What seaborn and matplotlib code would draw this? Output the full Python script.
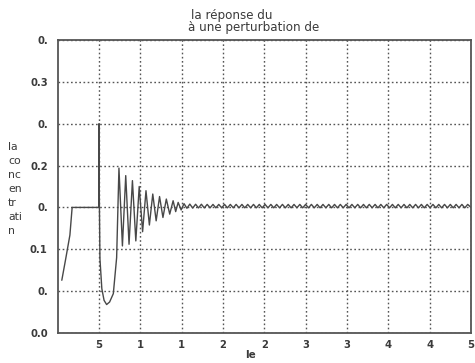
import matplotlib
matplotlib.use("Agg")
import matplotlib.pyplot as plt
import seaborn as sns
import pandas as pd

# start-up transient, perturbation spike and damped ringing (time, concentration)
t_head = [5.2, 10.0, 15.0, 17.7, 35.0, 50.0, 50.2, 50.6, 51.3, 53.6, 56.3, 59.4, 63.0, 67.5, 71.5,
          74.3, 78.5, 82.5, 86.5, 90.6, 94.7, 98.8, 102.9, 107.0, 111.1, 115.2, 119.3,
          123.4, 127.5, 131.6, 135.7, 139.8, 142.9, 145.9, 149.5]
c_head = [0.063, 0.089, 0.117, 0.150, 0.150, 0.150, 0.250, 0.160, 0.089, 0.053, 0.039, 0.034, 0.037, 0.047, 0.090,
          0.197, 0.104, 0.188, 0.106, 0.182, 0.110, 0.175, 0.121, 0.170, 0.129, 0.166, 0.134,
          0.163, 0.138, 0.160, 0.142, 0.158, 0.145, 0.156, 0.147]

# residual small oscillation around the steady state
t_tail = [153.0, 156.5, 160.0, 163.5, 167.0, 170.5, 174.0, 177.5, 181.0, 184.5,
          188.0, 191.5, 195.0, 198.5, 202.0, 205.5, 209.0, 212.5, 216.0, 219.5,
          223.0, 226.5, 230.0, 233.5, 237.0, 240.5, 244.0, 247.5, 251.0, 254.5,
          258.0, 261.5, 265.0, 268.5, 272.0, 275.5, 279.0, 282.5, 286.0, 289.5,
          293.0, 296.5, 300.0, 303.5, 307.0, 310.5, 314.0, 317.5, 321.0, 324.5,
          328.0, 331.5, 335.0, 338.5, 342.0, 345.5, 349.0, 352.5, 356.0, 359.5,
          363.0, 366.5, 370.0, 373.5, 377.0, 380.5, 384.0, 387.5, 391.0, 394.5,
          398.0, 401.5, 405.0, 408.5, 412.0, 415.5, 419.0, 422.5, 426.0, 429.5,
          433.0, 436.5, 440.0, 443.5, 447.0, 450.5, 454.0, 457.5, 461.0, 464.5,
          468.0, 471.5, 475.0, 478.5, 482.0, 485.5, 489.0, 492.5, 496.0, 500.0]
c_tail = [0.1545, 0.1490, 0.1540, 0.1492, 0.1538, 0.1494, 0.1538, 0.1494, 0.1536, 0.1495,
          0.1536, 0.1495, 0.1536, 0.1495, 0.1536, 0.1495, 0.1536, 0.1495, 0.1536, 0.1495,
          0.1536, 0.1495, 0.1536, 0.1495, 0.1536, 0.1495, 0.1536, 0.1495, 0.1536, 0.1495,
          0.1536, 0.1495, 0.1536, 0.1495, 0.1536, 0.1495, 0.1536, 0.1495, 0.1536, 0.1495,
          0.1536, 0.1495, 0.1536, 0.1495, 0.1536, 0.1495, 0.1536, 0.1495, 0.1536, 0.1495,
          0.1536, 0.1495, 0.1536, 0.1495, 0.1536, 0.1495, 0.1536, 0.1495, 0.1536, 0.1495,
          0.1536, 0.1495, 0.1536, 0.1495, 0.1536, 0.1495, 0.1536, 0.1495, 0.1536, 0.1495,
          0.1536, 0.1495, 0.1536, 0.1495, 0.1536, 0.1495, 0.1536, 0.1495, 0.1536, 0.1495,
          0.1536, 0.1495, 0.1536, 0.1495, 0.1536, 0.1495, 0.1536, 0.1495, 0.1536, 0.1495,
          0.1536, 0.1495, 0.1536, 0.1495, 0.1536, 0.1495, 0.1536, 0.1495, 0.1536, 0.1500]

x_ticks = [50, 100, 150, 200, 250, 300, 350, 400, 450, 500]
x_ticklabels = ["5", "1", "1", "2", "2", "3", "3", "4", "4", "5"]
y_ticks = [0.0, 0.05, 0.1, 0.15, 0.2, 0.25, 0.3, 0.35]
y_ticklabels = ["0.0", "0.", "0.1", "0.", "0.2", "0.", "0.3", "0."]

df = pd.DataFrame({"t": t_head + t_tail, "c": c_head + c_tail})

sns.set_style("white")
plt.rcParams["font.family"] = ["DejaVu Sans"]

ink = "#3a3a3a"
fig = plt.figure(figsize=(4.75, 3.63), dpi=100)
ax = fig.add_axes([57.5 / 475, 1 - 333 / 363, (471 - 57.5) / 475, (333 - 40) / 363])

sns.lineplot(data=df, x="t", y="c", sort=False, estimator=None,
             color="#484848", linewidth=1.0, ax=ax)

ax.set_xlim(0, 500)
ax.set_ylim(0, 0.35)
ax.set_xticks(x_ticks)
ax.set_xticklabels(x_ticklabels)
ax.set_yticks(y_ticks)
ax.set_yticklabels(y_ticklabels)
ax.tick_params(axis="both", length=0, labelsize=7.2, colors=ink)
ax.tick_params(axis="y", pad=7)
ax.tick_params(axis="x", pad=5)
for lab in ax.get_xticklabels() + ax.get_yticklabels():
    lab.set_fontweight("bold")
ax.grid(True, linestyle=(0, (1.2, 1.8)), color="#555555", linewidth=1.0)
for sp in ax.spines.values():
    sp.set_visible(True)
    sp.set_color("#555555")
    sp.set_linewidth(1.3)
ax.set_xlabel("")
ax.set_ylabel("")

fig.text(191 / 475, 1 - 15 / 363, "la réponse du", ha="left", va="center",
         fontsize=8.6, color=ink)
fig.text(188 / 475, 1 - 28 / 363, "à une perturbation de", ha="left", va="center",
         fontsize=8.6, color=ink)
fig.text(250 / 475, 1 - 355 / 363, "le", ha="center", va="center",
         fontsize=7.5, color=ink, fontweight="bold")
fig.text(8 / 475, 1 - 189 / 363, "la\nco\nnc\nen\ntr\nati\nn", ha="left", va="center",
         fontsize=7.8, color=ink, linespacing=1.5)

fig.savefig("out.png", dpi=100)
